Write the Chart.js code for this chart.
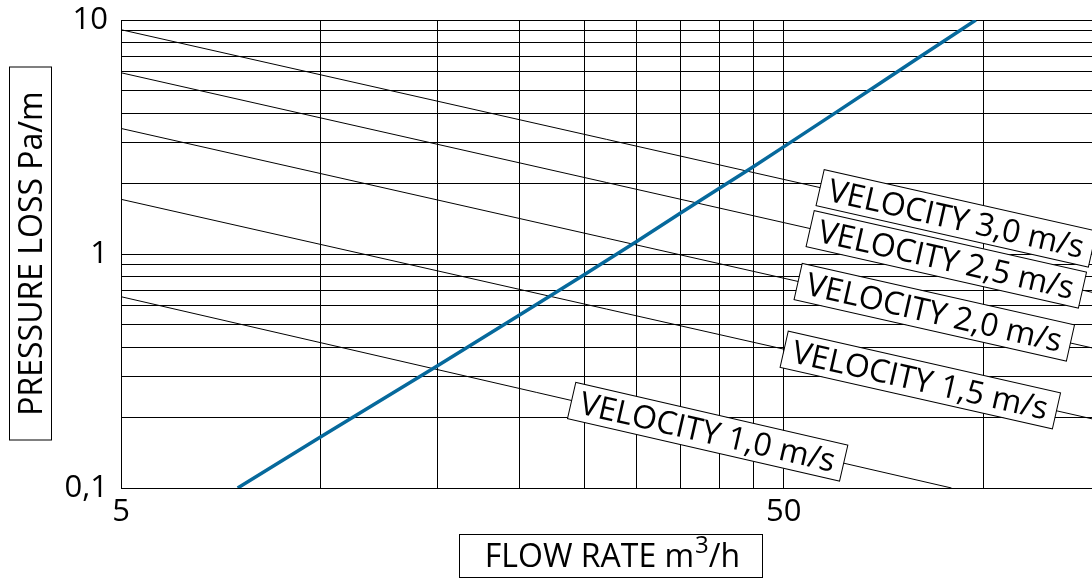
<!DOCTYPE html>
<html>
<head>
<meta charset="utf-8">
<script src="https://cdn.jsdelivr.net/npm/chart.js@4/dist/chart.umd.min.js"></script>
<style>
  body { margin: 0; background: #fff; }
  #wrap { width: 1092px; height: 578px; }
</style>
</head>
<body>
<div id="wrap"><canvas id="graph"></canvas></div>
<script>
// flow rate (m3/h) against pressure loss (Pa/m)
var flowRate = [7.5, 10, 15, 20, 25, 30, 35, 40, 45, 50, 60, 70, 80, 90, 97.5];
var pressureLoss = [0.1, 0.165, 0.332, 0.55, 0.816, 1.13, 1.5, 1.91, 2.36, 2.87, 4.03, 5.38, 6.91, 8.61, 10];

// velocity lines: start and end point of each
var velocityNames = ['VELOCITY 3,0 m/s', 'VELOCITY 2,5 m/s', 'VELOCITY 2,0 m/s', 'VELOCITY 1,5 m/s', 'VELOCITY 1,0 m/s'];
var velocityFlow = [[5, 146], [5, 146], [5, 146], [5, 146], [5, 89.6]];
var velocityLoss = [[9.09, 1.05], [5.95, 0.686], [3.44, 0.397], [1.713, 0.1975], [0.657, 0.1]];
var velocityLabelAt = [91.1, 88.0, 84.4, 80.4, 38.4];

// ticks and their labels
var xTicks = [5, 10, 15, 20, 25, 30, 35, 40, 45, 50, 100];
var xTickLabels = {'5': '5', '50': '50'};
var yTicks = [0.1, 0.2, 0.3, 0.4, 0.5, 0.6, 0.7, 0.8, 0.9, 1, 2, 3, 4, 5, 6, 7, 8, 9, 10];
var yTickLabels = {'0.1': '0,1', '1': '1', '10': '10'};

var FONT = '"Open Sans", "Noto Sans", sans-serif';

var datasets = [{
    label: 'pressure loss',
    data: flowRate.map(function (x, i) { return {x: x, y: pressureLoss[i]}; }),
    borderColor: '#06699c',
    borderWidth: 3.5,
    pointRadius: 0,
    order: 0
}];
velocityNames.forEach(function (name, i) {
    datasets.push({
        label: name,
        data: velocityFlow[i].map(function (x, j) { return {x: x, y: velocityLoss[i][j]}; }),
        borderColor: '#000',
        borderWidth: 1,
        pointRadius: 0,
        order: 1
    });
});

// boxed, rotated labels sitting on each velocity line
var velocityLabels = {
    id: 'velocityLabels',
    afterDatasetsDraw: function (chart) {
        var ctx = chart.ctx;
        var xs = chart.scales.x;
        for (var i = 0; i < velocityNames.length; i++) {
            var meta = chart.getDatasetMeta(i + 1);
            var p0 = meta.data[0], p1 = meta.data[1];
            var ang = Math.atan2(p1.y - p0.y, p1.x - p0.x);
            var cx = xs.getPixelForValue(velocityLabelAt[i]);
            var cy = p0.y + (cx - p0.x) * Math.tan(ang);
            ctx.save();
            ctx.translate(cx, cy);
            ctx.rotate(ang);
            ctx.font = '32px ' + FONT;
            var w = ctx.measureText(velocityNames[i]).width + 18;
            var h = 37;
            ctx.fillStyle = '#fff';
            ctx.fillRect(-w / 2, -h / 2, w, h);
            ctx.strokeStyle = '#000';
            ctx.lineWidth = 1;
            ctx.strokeRect(-w / 2, -h / 2, w, h);
            ctx.fillStyle = '#000';
            ctx.textAlign = 'center';
            ctx.textBaseline = 'middle';
            ctx.fillText(velocityNames[i], 0, 2);
            ctx.restore();
        }
    }
};

// axis titles in boxes
var axisTitles = {
    id: 'axisTitles',
    afterDraw: function (chart) {
        var ctx = chart.ctx;
        ctx.save();
        ctx.strokeStyle = '#000';
        ctx.lineWidth = 1;
        ctx.fillStyle = '#000';

        // y title
        ctx.save();
        ctx.translate(30.5, 253.5);
        ctx.rotate(-Math.PI / 2);
        ctx.strokeRect(-186.5, -21, 373, 42);
        ctx.font = '32px ' + FONT;
        ctx.textAlign = 'center';
        ctx.textBaseline = 'middle';
        ctx.fillText('PRESSURE LOSS Pa/m', 0, 2);
        ctx.restore();

        // x title with superscript
        ctx.strokeRect(459.5, 534.5, 303, 43);
        var a = 'FLOW RATE m', b = '3', c = '/h';
        ctx.font = '32px ' + FONT;
        var wa = ctx.measureText(a).width, wc = ctx.measureText(c).width;
        ctx.font = '24px ' + FONT;
        var wb = ctx.measureText(b).width;
        var x0 = 612 - (wa + wb + wc) / 2;
        var base = 567;
        ctx.textAlign = 'left';
        ctx.textBaseline = 'alphabetic';
        ctx.font = '32px ' + FONT;
        ctx.fillText(a, x0, base);
        ctx.font = '24px ' + FONT;
        ctx.fillText(b, x0 + wa + 1, base - 14);
        ctx.font = '32px ' + FONT;
        ctx.fillText(c, x0 + wa + wb + 1, base);
        ctx.restore();
    }
};

new Chart(document.getElementById('graph'), {
    type: 'line',
    data: { datasets: datasets },
    options: {
        responsive: true,
        maintainAspectRatio: false,
        animation: false,
        layout: { padding: { top: 20, right: 0, left: 0, bottom: 0 } },
        plugins: { legend: { display: false }, tooltip: { enabled: false } },
        scales: {
            x: {
                type: 'logarithmic',
                min: 5,
                max: 146,
                afterBuildTicks: function (s) { s.ticks = xTicks.map(function (v) { return {value: v}; }); },
                afterFit: function (s) { s.height = 90; s.paddingLeft = 0; s.paddingRight = 0; },
                ticks: {
                    autoSkip: false,
                    maxRotation: 0,
                    padding: 6,
                    color: '#000',
                    font: { family: FONT, size: 31 },
                    callback: function (v) { return xTickLabels[String(v)] || ''; }
                },
                grid: { color: '#000', lineWidth: 1, drawTicks: false },
                border: { color: '#000', width: 1 }
            },
            y: {
                type: 'logarithmic',
                min: 0.1,
                max: 10,
                afterBuildTicks: function (s) { s.ticks = yTicks.map(function (v) { return {value: v}; }); },
                afterFit: function (s) { s.width = 121; s.paddingTop = 0; s.paddingBottom = 0; },
                ticks: {
                    autoSkip: false,
                    padding: 13,
                    color: '#000',
                    font: { family: FONT, size: 31 },
                    callback: function (v) { return yTickLabels[String(v)] || ''; }
                },
                grid: { color: '#000', lineWidth: 1, drawTicks: false },
                border: { color: '#000', width: 1 }
            }
        }
    },
    plugins: [velocityLabels, axisTitles]
});
</script>
</body>
</html>
